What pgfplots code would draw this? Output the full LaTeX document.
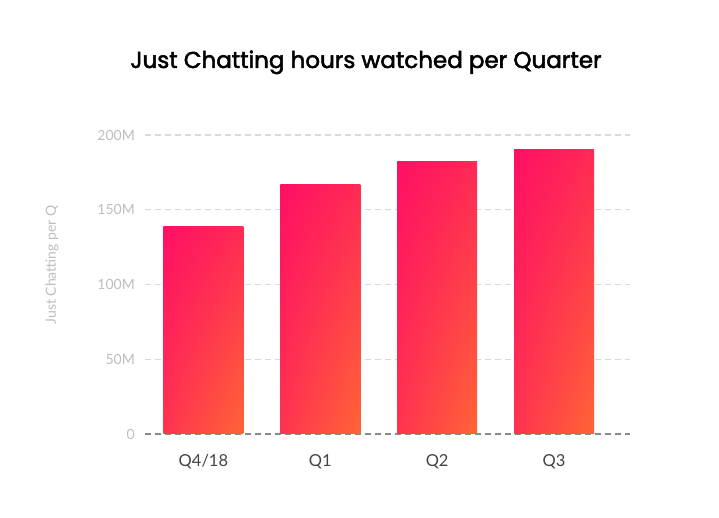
\documentclass[border=0pt]{standalone}
\usepackage{fontspec}
\setmainfont{Lato}
\newfontfamily\titlefont[FakeBold=2.2]{Poppins}
\usepackage{pgfplots}
\pgfplotsset{compat=1.18}
\usetikzlibrary{shadings}
\definecolor{ctl}{HTML}{FF0F64}
\definecolor{ctr}{HTML}{FF2A55}
\definecolor{cbl}{HTML}{FF3350}
\definecolor{cbr}{HTML}{FF6535}
\definecolor{gridc}{HTML}{DADADA}
\definecolor{zeroc}{HTML}{8A8A8A}
\definecolor{ytc}{HTML}{BEBEBE}
\definecolor{xtc}{HTML}{444444}
\begin{document}
\begin{tikzpicture}
\path[fill=white] (0,0) rectangle (719bp,518bp);
\begin{axis}[
  at={(145bp,84bp)}, anchor=south west,
  scale only axis, width=485bp, height=299bp,
  xmin=-0.5, xmax=3.65, ymin=0, ymax=200,
  xtick={0,1,2,3}, xticklabels={Q4/18,Q1,Q2,Q3},
  ytick={50,100,150,200}, yticklabels={50M,100M,150M,200M},
  extra y ticks={0}, extra y tick labels={0},
  extra y tick style={grid style={dash pattern=on 6bp off 4bp, line width=1.3bp, color=zeroc}},
  ymajorgrids,
  grid style={dash pattern=on 6bp off 4bp, line width=1.3bp, color=gridc},
  axis line style={draw=none},
  major tick length=0pt,
  yticklabel style={anchor=east, inner sep=0pt, xshift=-10bp, text=ytc, font=\fontsize{14bp}{14bp}\selectfont},
  xticklabel style={anchor=base, inner sep=0pt, yshift=-33bp, text=xtc, font=\fontsize{16.5bp}{16bp}\selectfont},
  clip=false,
]
\addplot[ybar, bar width=80bp, bar shift=0pt, draw=none, upper left=ctl, upper right=ctr, lower left=cbl, lower right=cbr] coordinates {(0,139)};
\addplot[ybar, bar width=80bp, bar shift=0pt, draw=none, upper left=ctl, upper right=ctr, lower left=cbl, lower right=cbr] coordinates {(1,167)};
\addplot[ybar, bar width=80bp, bar shift=0pt, draw=none, upper left=ctl, upper right=ctr, lower left=cbl, lower right=cbr] coordinates {(2,182)};
\addplot[ybar, bar width=80bp, bar shift=0pt, draw=none, upper left=ctl, upper right=ctr, lower left=cbl, lower right=cbr] coordinates {(3,190)};
\end{axis}
\node[rotate=90, text=ytc, font=\fontsize{14bp}{14bp}\selectfont] at (52bp,253bp) {Just Chatting per Q};
\node[anchor=base, font=\fontsize{23bp}{23bp}\selectfont\titlefont] at (366bp,450bp) {Just Chatting hours watched per Quarter};
\end{tikzpicture}
\end{document}
